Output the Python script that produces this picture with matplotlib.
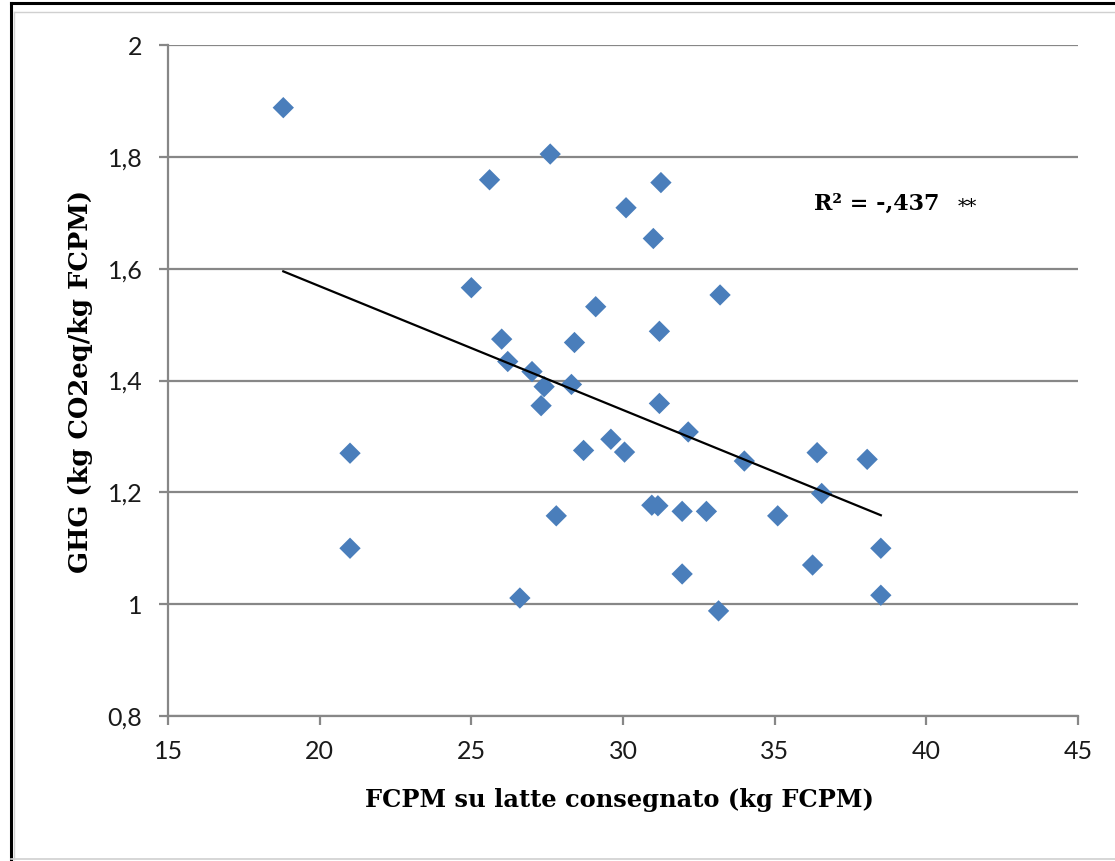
import matplotlib
matplotlib.use("Agg")
import matplotlib.pyplot as plt
import matplotlib.lines as mlines
import numpy as np

# FCPM delivered (kg FCPM) and GHG (kg CO2eq / kg FCPM)
fcpm = [18.8, 21.0, 21.0, 25.6, 27.6, 25.0, 26.0, 26.2, 27.0, 27.4,
        27.3, 28.4, 28.3, 29.1, 28.7, 29.6, 30.05, 30.1, 31.0, 31.25,
        31.2, 31.2, 30.95, 31.15, 31.95, 32.75, 32.15, 34.0, 35.1, 27.8,
        31.95, 26.6, 33.15, 33.2, 38.5, 38.5, 36.25, 36.4, 36.55, 38.05]
ghg = [1.888, 1.270, 1.100, 1.759, 1.805, 1.566, 1.474, 1.434, 1.416, 1.389,
       1.355, 1.468, 1.393, 1.532, 1.275, 1.295, 1.272, 1.709, 1.654, 1.754,
       1.488, 1.359, 1.177, 1.176, 1.166, 1.166, 1.308, 1.256, 1.158, 1.158,
       1.054, 1.011, 0.988, 1.553, 1.100, 1.016, 1.070, 1.271, 1.198, 1.259]

x_ticks = [15, 20, 25, 30, 35, 40, 45]
y_ticks = [0.8, 1.0, 1.2, 1.4, 1.6, 1.8, 2.0]
y_tick_labels = ["0,8", "1", "1,2", "1,4", "1,6", "1,8", "2"]

GRID = "#878787"
BLUE = "#4A7EBB"

fig = plt.figure(figsize=(11.15, 8.61), dpi=100)

# frame of the screenshot: black top/left, light grey inner lines and bottom
W, H = 1115, 861
def frame_line(x0, y0, x1, y1, color, lw):
    fig.add_artist(mlines.Line2D([x0 / W, x1 / W], [1 - y0 / H, 1 - y1 / H],
                                 transform=fig.transFigure, color=color, linewidth=lw))
frame_line(11, 3, W, 3, "black", 2.2)
frame_line(11, 3, 11, H, "black", 2.2)
frame_line(14, 12, W, 12, "#d0d0d0", 1.0)
frame_line(14, 12, 14, 859, "#d0d0d0", 1.0)
frame_line(11, 859, W, 859, "#d0d0d0", 1.2)

ax = fig.add_axes([0.1507, 0.1684, 0.8161, 0.7793])
ax.set_xlim(15, 45)
ax.set_ylim(0.8, 2.0)

ax.set_xticks(x_ticks)
ax.set_xticklabels([str(t) for t in x_ticks])
ax.set_yticks(y_ticks)
ax.set_yticklabels(y_tick_labels)

for s in ["top", "right"]:
    ax.spines[s].set_visible(False)
for s in ["left", "bottom"]:
    ax.spines[s].set_color(GRID)
    ax.spines[s].set_linewidth(1.6)
ax.tick_params(direction="out", length=6.5, width=1.6, color=GRID, labelsize=18)
ax.tick_params(axis="y", pad=12)
ax.tick_params(axis="x", pad=11)
for lab in ax.get_xticklabels() + ax.get_yticklabels():
    lab.set_fontfamily("Lato")
    lab.set_color("#1a1a1a")
ax.yaxis.grid(True, color=GRID, linewidth=1.6)
ax.set_axisbelow(True)

ax.scatter(fcpm, ghg, marker="D", s=118, color=BLUE, edgecolors="none", zorder=3)

# linear trend line over data range
slope, intercept = np.polyfit(fcpm, ghg, 1)
xs = np.array([min(fcpm), max(fcpm)])
ax.plot(xs, slope * xs + intercept, color="black", linewidth=1.6, zorder=4)

ax.text(36.3, 1.7048, "R² = -,437", fontsize=16, fontweight="bold",
        fontfamily="DejaVu Serif", ha="left", va="baseline")
ax.text(41.36, 1.71, "**", fontsize=14, fontfamily="DejaVu Serif",
        ha="center", va="center")

ax.set_xlabel("FCPM su latte consegnato (kg FCPM)", fontsize=17.4, fontweight="bold",
              fontfamily="DejaVu Serif")
ax.xaxis.set_label_coords(0.4956, -0.108)
ax.set_ylabel("GHG (kg CO2eq/kg FCPM)", fontsize=18.5, fontweight="bold",
              fontfamily=["DejaVu Serif Condensed", "DejaVu Serif"])
ax.yaxis.set_label_coords(-0.0824, 0.498)

fig.savefig("out.png", dpi=100)
